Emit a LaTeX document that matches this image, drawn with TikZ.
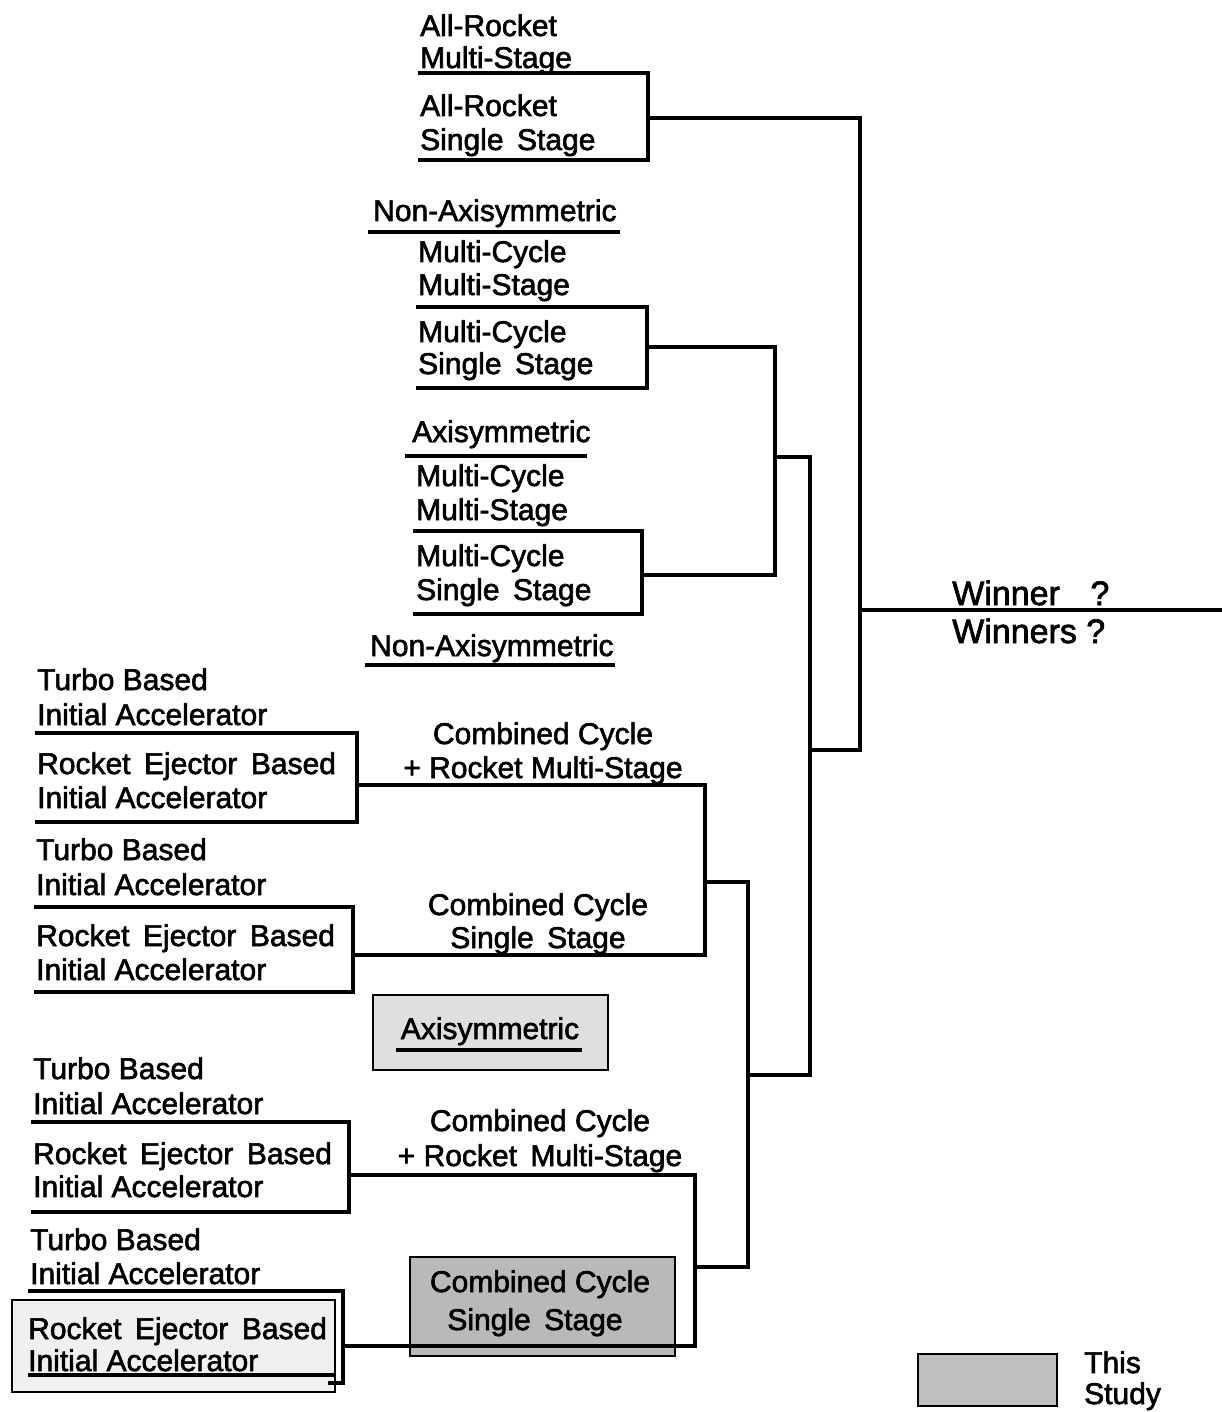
\documentclass[tikz,border=0pt]{standalone}
\usepackage{fontspec}
\newfontfamily\lblfont[FakeBold=2]{Liberation Sans}
\tikzset{
  lbl/.style={anchor=base west, inner sep=0pt, font=\lblfont\fontsize{30}{34}\selectfont},
  ctr/.style={anchor=base, inner sep=0pt, font=\lblfont\fontsize{30}{34}\selectfont},
  big/.style={anchor=base west, inner sep=0pt, font=\lblfont\fontsize{34}{38}\selectfont},
  brk/.style={line width=3.2pt, line join=miter, line cap=rect},
  thin/.style={line width=2.8pt, line join=miter},
}
\newcommand{\ws}{\hspace{0.45em}}
\begin{document}
\begin{tikzpicture}[x=1pt,y=-1pt]
\useasboundingbox (0,0) rectangle (1221,1412);
\fill[white] (0,0) rectangle (1221,1412);

% ---------- shaded highlight boxes ----------
\draw[thin, fill=gray!12] (12,1300) rectangle (335,1392);
\draw[thin, fill=gray!25] (373,995) rectangle (608,1070);
\draw[thin, fill=gray!55] (410,1257) rectangle (675,1356);
\draw[thin] (410,1345) -- (675,1345);
\draw[thin, fill=gray!50] (918,1354) rectangle (1057,1406);

% ---------- top bracket: all-rocket ----------
\node[lbl] (ar1) at (420,36) {All-Rocket};
\node[lbl] (ms1) at (420,68) {Multi-Stage};
\node[lbl] (ar2) at (420,116) {All-Rocket};
\node[lbl] (ss1) at (420,150) {Single\ws Stage};
\draw[brk] (420,73) -- (648,73) -- (648,160) -- (420,160);

% ---------- non-axisymmetric multi-cycle ----------
\node[lbl] (na1) at (373,221) {Non-Axisymmetric};
\draw[brk] (370,232) -- (618,232);
\node[lbl] (mc1) at (418,262) {Multi-Cycle};
\node[lbl] (ms2) at (418,295) {Multi-Stage};
\node[lbl] (mc2) at (418,342) {Multi-Cycle};
\node[lbl] (ss2) at (418,374) {Single\ws Stage};
\draw[brk] (418,307) -- (647,307) -- (647,388) -- (418,388);

% ---------- axisymmetric multi-cycle ----------
\node[lbl] (ax1) at (412,442) {Axisymmetric};
\draw[brk] (407,456) -- (585,456);
\node[lbl] (mc3) at (416,486) {Multi-Cycle};
\node[lbl] (ms3) at (416,520) {Multi-Stage};
\node[lbl] (mc4) at (416,566) {Multi-Cycle};
\node[lbl] (ss3) at (416,600) {Single\ws Stage};
\draw[brk] (415,531) -- (642,531) -- (642,614) -- (415,614);

\node[lbl] (na2) at (370,656) {Non-Axisymmetric};
\draw[brk] (367,665) -- (613,665);

% ---------- winner ----------
\node[big] (win1) at (952,605) {Winner\hspace{0.9em}?};
\node[big] (win2) at (952,643) {Winners ?};

% ---------- group 1 ----------
\node[lbl] (tb1) at (37,690) {Turbo Based};
\node[lbl] (ia1) at (37,725) {Initial Accelerator};
\node[lbl] (re1) at (37,774) {Rocket\ws Ejector\ws Based};
\node[lbl] (ia2) at (37,808) {Initial Accelerator};
\draw[brk] (37,733) -- (357,733) -- (357,822) -- (37,822);
\node[ctr] (cc1) at (543,744) {Combined Cycle};
\node[ctr] (rm1) at (543,778) {+ Rocket Multi-Stage};

% ---------- group 2 ----------
\node[lbl] (tb2) at (36,860) {Turbo Based};
\node[lbl] (ia3) at (36,895) {Initial Accelerator};
\node[lbl] (re2) at (36,946) {Rocket\ws Ejector\ws Based};
\node[lbl] (ia4) at (36,980) {Initial Accelerator};
\draw[brk] (36,907) -- (353,907) -- (353,992) -- (36,992);
\node[ctr] (cc2) at (538,915) {Combined Cycle};
\node[ctr] (ss4) at (538,948) {Single\ws Stage};

% ---------- axisymmetric (shaded) ----------
\node[ctr] (ax2) at (490,1039) {Axisymmetric};
\draw[brk] (398,1050) -- (580,1050);

% ---------- group 3 ----------
\node[lbl] (tb3) at (33,1079) {Turbo Based};
\node[lbl] (ia5) at (33,1114) {Initial Accelerator};
\node[lbl] (re3) at (33,1164) {Rocket\ws Ejector\ws Based};
\node[lbl] (ia6) at (33,1197) {Initial Accelerator};
\draw[brk] (33,1122) -- (349,1122) -- (349,1212) -- (33,1212);
\node[ctr] (cc3) at (540,1131) {Combined Cycle};
\node[ctr] (rm2) at (540,1166) {+ Rocket\ws Multi-Stage};

% ---------- group 4 ----------
\node[lbl] (tb4) at (30,1250) {Turbo Based};
\node[lbl] (ia7) at (30,1284) {Initial Accelerator};
\node[lbl] (re4) at (28,1339) {Rocket\ws Ejector\ws Based};
\node[lbl] (ia8) at (28,1371) {Initial Accelerator};
\draw[brk] (30,1291) -- (343,1291) -- (343,1383) -- (330,1383);
\draw[brk] (30,1375) -- (333,1375);
\node[ctr] (cc4) at (540,1292) {Combined Cycle};
\node[ctr] (ss5) at (535,1330) {Single\ws Stage};

% ---------- legend ----------
\node[lbl] (this) at (1084,1373) {This};
\node[lbl] (study) at (1084,1404) {Study};

% ---------- bracket connectors ----------
\coordinate (oA) at (648,118);
\coordinate (jTop) at (860,118);
\coordinate (jW) at (860,610);
\coordinate (wEnd) at (1221,610);
\coordinate (jBot) at (860,750);
\coordinate (oB) at (647,347);
\coordinate (kB) at (775,347);
\coordinate (oC) at (642,575);
\coordinate (kC) at (775,575);
\coordinate (kM) at (775,457);
\coordinate (mT) at (810,457);
\coordinate (mM) at (810,750);
\coordinate (mB) at (810,1075);
\coordinate (oD) at (357,785);
\coordinate (pD) at (705,785);
\coordinate (oE) at (353,955);
\coordinate (pE) at (705,955);
\coordinate (pM) at (705,882);
\coordinate (qT) at (748,882);
\coordinate (qM) at (748,1075);
\coordinate (qB) at (748,1267);
\coordinate (oF) at (349,1175);
\coordinate (rF) at (695,1175);
\coordinate (oG) at (343,1346);
\coordinate (rG) at (695,1346);
\coordinate (rM) at (695,1267);

\draw[brk] (oA) -- (jTop) -- (jBot) -- (mM);
\draw[brk] (jW) -- (wEnd);
\draw[brk] (oB) -- (kB) -- (kC) -- (oC);
\draw[brk] (kM) -- (mT) -- (mB) -- (qM);
\draw[brk] (oD) -- (pD) -- (pE) -- (oE);
\draw[brk] (pM) -- (qT) -- (qB) -- (rM);
\draw[brk] (oF) -- (rF) -- (rG) -- (oG);
\end{tikzpicture}
\end{document}
